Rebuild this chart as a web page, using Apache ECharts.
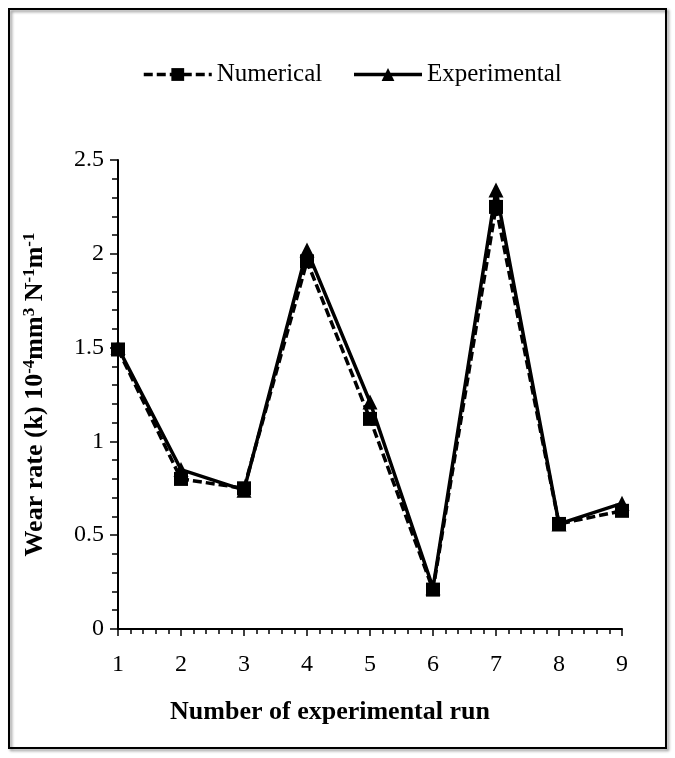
<!DOCTYPE html>
<html>
<head>
<meta charset="utf-8">
<script src="https://cdn.jsdelivr.net/npm/echarts@6/dist/echarts.min.js"></script>
<style>
html,body{margin:0;padding:0;background:#fff;}
#chart{width:675px;height:758px;}
</style>
</head>
<body>
<div id="chart"></div>
<script>
const runs = [1, 2, 3, 4, 5, 6, 7, 8, 9];
const numerical = [1.49, 0.80, 0.75, 1.96, 1.12, 0.21, 2.25, 0.56, 0.63];
const experimental = [1.50, 0.85, 0.74, 2.02, 1.21, 0.22, 2.34, 0.56, 0.67];
const yTicks = [0, 0.5, 1, 1.5, 2, 2.5];

const FONT = '"Liberation Serif", "Times New Roman", serif';
const chart = echarts.init(document.getElementById('chart'));

chart.setOption({
  backgroundColor: '#fff',
  animation: false,
  graphic: [{
    type: 'rect',
    shape: { x: 9, y: 9, width: 657, height: 739 },
    style: { fill: 'none', stroke: '#000', lineWidth: 2, shadowColor: 'rgba(0,0,0,0.45)', shadowBlur: 3, shadowOffsetX: 2, shadowOffsetY: 2 },
    z: -1
  }],
  legend: {
    top: 57,
    left: 137,
    itemWidth: 68,
    itemHeight: 16,
    itemGap: 30,
    lineStyle: { width: 3.5 },
    textStyle: { fontFamily: FONT, fontSize: 25, color: '#000' },
    data: ['Numerical', 'Experimental']
  },
  grid: { left: 118, right: 53, top: 160, bottom: 129 },
  xAxis: {
    type: 'value',
    min: 1, max: 9, interval: 1,
    name: 'Number of experimental run',
    nameLocation: 'middle',
    nameGap: 70,
    nameTextStyle: { fontFamily: FONT, fontSize: 26, fontWeight: 'bold', color: '#000', padding: [0, 80, 0, 0] },
    axisLine: { show: true, lineStyle: { color: '#000', width: 2 } },
    axisTick: { show: true, inside: false, length: 7, lineStyle: { color: '#000', width: 1.5 } },
    minorTick: { show: true, splitNumber: 5, length: 5, lineStyle: { color: '#000', width: 1.5 } },
    splitLine: { show: false },
    axisLabel: { fontFamily: FONT, fontSize: 24, color: '#000', margin: 24,
      formatter: v => runs.includes(v) ? String(v) : '' }
  },
  yAxis: {
    type: 'value',
    min: 0, max: 2.5, interval: 0.5,
    name: '{b|Wear rate (k) 10}{s|-4}{b|mm}{s|3}{b| N}{s|-1}{b|m}{s|-1}',
    nameLocation: 'middle',
    nameRotate: 90,
    nameGap: 68,
    nameTextStyle: {
      rich: {
        b: { fontFamily: FONT, fontSize: 26, fontWeight: 'bold', color: '#000', lineHeight: 29 },
        s: { fontFamily: FONT, fontSize: 17, fontWeight: 'bold', color: '#000', verticalAlign: 'top', lineHeight: 29 }
      }
    },
    axisLine: { show: true, lineStyle: { color: '#000', width: 2 } },
    axisTick: { show: true, inside: false, length: 8, lineStyle: { color: '#000', width: 1.5 } },
    minorTick: { show: true, splitNumber: 5, length: 6, lineStyle: { color: '#000', width: 1.5 } },
    splitLine: { show: false },
    axisLabel: { fontFamily: FONT, fontSize: 24, color: '#000', margin: 14,
      formatter: v => yTicks.includes(v) ? String(v) : '' }
  },
  series: [
    {
      name: 'Numerical',
      type: 'line',
      data: runs.map((r, i) => [r, numerical[i]]),
      symbol: 'rect',
      symbolSize: 14,
      itemStyle: { color: '#000' },
      lineStyle: { color: '#000', width: 3.5, type: [9, 4] },
      z: 3
    },
    {
      name: 'Experimental',
      type: 'line',
      data: runs.map((r, i) => [r, experimental[i]]),
      symbol: 'triangle',
      symbolSize: 15,
      itemStyle: { color: '#000' },
      lineStyle: { color: '#000', width: 3.5, type: 'solid' },
      z: 2
    }
  ]
});
</script>
</body>
</html>
